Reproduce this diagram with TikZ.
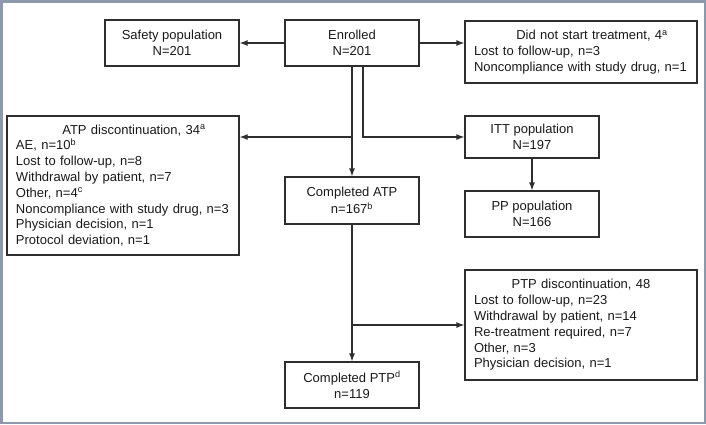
\documentclass[tikz,border=0pt]{standalone}
\usepackage{fontspec}
\setmainfont{Liberation Sans}
\usetikzlibrary{arrows,arrows.meta}

% centred first line of a left-aligned box (optional shift to the right)
\newcommand{\boxtitle}[2][0pt]{\hfill\hspace*{#1}#2\hfill\null\\}

\begin{document}
\begin{tikzpicture}[x=1pt, y=-1pt, >={Latex[length=8pt,width=6pt]},
    box/.style={draw=linegray, line width=1.2pt, minimum width=134pt, minimum height=46pt,
        inner sep=0pt, align=center, text=textgray, font=\fontsize{13}{16.5}\selectfont},
    listbox/.style={draw=linegray, line width=1.2pt, text width=214pt, inner xsep=9pt,
        inner ysep=0pt, minimum height=#1, align=left, text=textgray,
        font=\fontsize{13}{15.8}\selectfont},
    flow/.style={->, line width=1.2pt, draw=linegray}]
        \definecolor{linegray}{rgb}{0.18, 0.18, 0.18}
        \definecolor{textgray}{rgb}{0.1, 0.1, 0.1}
        \definecolor{framegray}{rgb}{0.55, 0.6, 0.67}

        \useasboundingbox (0,0) rectangle (706,424);

        % Outer frame
        \draw[framegray, line width=2.5pt] (1.25,1.25) rectangle (704.75,422.75);

        % Top row
        \node[box] (safety) at (172,43) {Safety population\\N=201};
        \node[box] (enrolled) at (352,43) {Enrolled\\N=201};
        \node[listbox=62pt] (notstarted) at (581,52)
            {\boxtitle[22pt]{Did not start treatment, 4\textsuperscript{a}}Lost to follow-up, n=3\\
             Noncompliance with study drug, n=1};

        % Active treatment period
        \node[listbox=139pt] (atpdisc) at (123,185.5)
            {\boxtitle[22pt]{ATP discontinuation, 34\textsuperscript{a}}AE, n=10\textsuperscript{b}\\
             Lost to follow-up, n=8\\
             Withdrawal by patient, n=7\\
             Other, n=4\textsuperscript{c}\\
             Noncompliance with study drug, n=3\\
             Physician decision, n=1\\
             Protocol deviation, n=1};
        \node[box, minimum height=47pt] (atpdone) at (352,200.5) {Completed ATP\\n=167\textsuperscript{b}};
        \node[box, minimum height=42pt] (itt) at (532,137) {ITT population\\N=197};
        \node[box] (pp) at (532,214) {PP population\\N=166};

        % Post-treatment period
        \node[listbox=110pt] (ptpdisc) at (581,325)
            {\boxtitle{PTP discontinuation, 48}Lost to follow-up, n=23\\
             Withdrawal by patient, n=14\\
             Re-treatment required, n=7\\
             Other, n=3\\
             Physician decision, n=1};
        \node[box] (ptpdone) at (352,385) {Completed PTP\textsuperscript{d}\\n=119};

        % Connectors
        \draw[flow] (enrolled) -- (safety);
        \draw[flow] (enrolled.east) -- (enrolled.east -| notstarted.west);
        \draw[flow] ([xshift=11pt]enrolled.south) |- (itt.west);
        \draw[flow] (enrolled) -- (atpdone);
        \coordinate (atpsplit) at (enrolled.south |- itt.west);
        \draw[flow] (atpsplit) -- (atpsplit -| atpdisc.east);
        \draw[flow] (itt) -- (pp);
        \draw[flow] (atpdone) -- (ptpdone);
        \coordinate (ptpsplit) at (atpdone.south |- ptpdisc.west);
        \draw[flow] (ptpsplit) -- (ptpdisc.west);
    \end{tikzpicture}
\end{document}
